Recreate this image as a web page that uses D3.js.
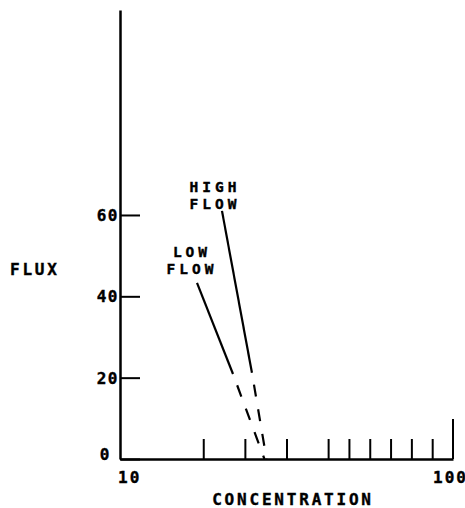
<!DOCTYPE html>
<html>
<head>
<meta charset="utf-8">
<script src="https://cdn.jsdelivr.net/npm/d3@7"></script>
<style>
  body { margin: 0; background: #fff; }
  text { font-family: "DejaVu Sans Mono", monospace; font-weight: bold; font-size: 16px; fill: #000; stroke: #000; stroke-width: 0.4px; }
  text.note { font-size: 14.5px; }
</style>
</head>
<body>
<div id="chart"></div>
<script>
const width = 465;
const height = 508;

// x axis is in tick units (the original is hand drawn, not a true log scale)
const xTicks = [4, 6, 8, 10, 11, 12, 13, 14, 15];
const xLabels = [{ u: 0, text: "10" }, { u: 16, text: "100" }];
const yTicks = [0, 20, 40, 60];

const highFlowSolid = [[4.90, 61.0], [6.34, 21.2]];
const highFlowDashed = [[6.34, 21.2], [7.04, 0]];
const lowFlowSolid = [[3.70, 43.3], [5.43, 20.9]];
const lowFlowDashed = [[5.43, 20.9], [6.94, 0]];

const x = d3.scaleLinear().domain([0, 16]).range([120, 453]);
const y = d3.scaleLinear().domain([0, 110.4]).range([459, 10]);

const svg = d3.select("#chart")
    .append("svg")
    .attr("width", width)
    .attr("height", height);

// y axis, ticks pointing inward
const yAxis = svg.append("g")
    .attr("transform", `translate(${x(0)},0)`)
    .call(d3.axisLeft(y).tickValues(yTicks).tickSizeInner(-20).tickSizeOuter(0).tickPadding(2));
yAxis.attr("font-size", null).attr("font-family", null);
yAxis.select(".domain").attr("stroke-width", 2.5);
yAxis.selectAll(".tick line").attr("stroke-width", 2);
yAxis.selectAll(".tick text")
    .attr("letter-spacing", 1.5)
    .attr("dy", "0.35em")
    .attr("x", d => d === 0 ? -9 : -1)
    .attr("y", d => d === 0 ? -5 : 0);

// x axis
const xAxis = svg.append("g")
    .attr("transform", `translate(0,${y(0)})`)
    .call(d3.axisBottom(x).tickValues(xTicks).tickSizeInner(-20).tickSizeOuter(0).tickFormat(""));
xAxis.select(".domain").attr("stroke-width", 2.5);
xAxis.selectAll(".tick line").attr("stroke-width", 2);

// tall end tick at 100
svg.append("line")
    .attr("x1", x(16)).attr("x2", x(16))
    .attr("y1", y(0)).attr("y2", y(0) - 40)
    .attr("stroke", "#000").attr("stroke-width", 2);

svg.selectAll(".xlabel")
    .data(xLabels)
    .join("text")
    .attr("class", "xlabel")
    .attr("x", d => d.u === 0 ? x(d.u) - 2 : x(d.u) - 20)
    .attr("y", y(0) + 24)
    .attr("letter-spacing", 2)
    .text(d => d.text);

svg.append("text")
    .attr("x", 293)
    .attr("y", 505)
    .attr("text-anchor", "middle")
    .attr("letter-spacing", 2.8)
    .text("CONCENTRATION");

svg.append("text")
    .attr("x", 10)
    .attr("y", 275)
    .attr("letter-spacing", 2.8)
    .text("FLUX");

const line = d3.line().x(d => x(d[0])).y(d => y(d[1]));

[highFlowSolid, lowFlowSolid].forEach(pts => {
    svg.append("path")
        .attr("d", line(pts))
        .attr("fill", "none")
        .attr("stroke", "#000")
        .attr("stroke-width", 2.2);
});

[highFlowDashed, lowFlowDashed].forEach(pts => {
    svg.append("path")
        .attr("d", line(pts))
        .attr("fill", "none")
        .attr("stroke", "#000")
        .attr("stroke-width", 2.2)
        .attr("stroke-dasharray", "12,13")
        .attr("stroke-dashoffset", 13);
});

// two-line annotation above the start of each line
function annotate(pt, lines, dx, top, gap) {
    lines.forEach((s, i) => {
        svg.append("text")
            .attr("class", "note")
            .attr("x", x(pt[0]) + dx)
            .attr("y", y(pt[1]) + top + i * gap)
            .attr("text-anchor", "middle")
            .attr("letter-spacing", 4)
            .text(s);
    });
}
annotate(highFlowSolid[0], ["HIGH", "FLOW"], -7, -19, 17);
annotate(lowFlowSolid[0], ["LOW", "FLOW"], -5, -26, 17);
</script>
</body>
</html>
